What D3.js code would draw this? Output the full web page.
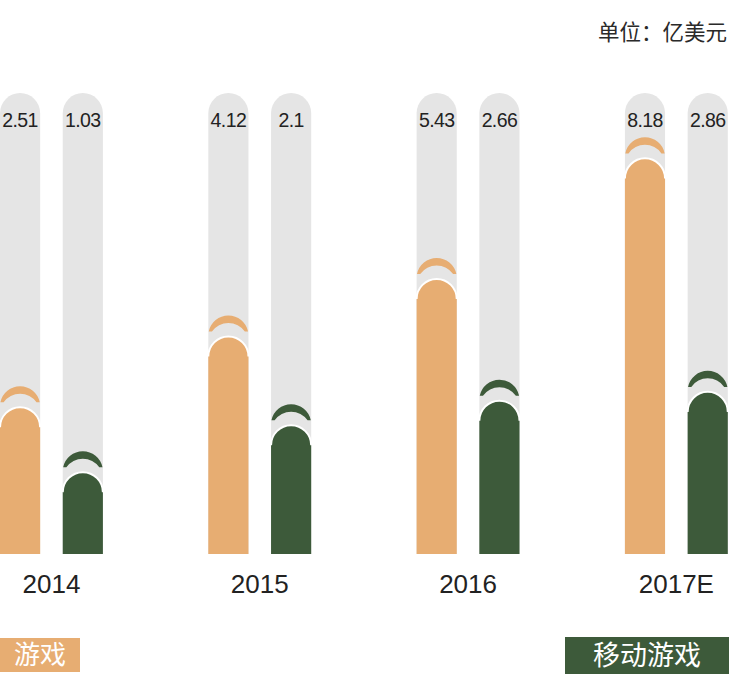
<!DOCTYPE html>
<html><head><meta charset="utf-8">
<script src="https://cdn.jsdelivr.net/npm/d3@7"></script>
<style>
html,body{margin:0;padding:0;background:#fff;}
svg{display:block;}
</style></head>
<body>
<svg id="chart" width="729" height="676"></svg>
<script>
const years = ["2014", "2015", "2016", "2017E"];
const seriesNames = ["游戏", "移动游戏"];
const gameValues = [2.51, 4.12, 5.43, 8.18];
const mobileValues = [1.03, 2.1, 2.66, 2.86];
const valueLabels = [["2.51","1.03"],["4.12","2.1"],["5.43","2.66"],["8.18","2.86"]];
const unitLabel = "单位：亿美元";

const colors = {"游戏": "#E7AD72", "移动游戏": "#3D5A3A"};
const pillColor = "#E5E5E5";
const W = 729, H = 676;
const baseY = 554, pillTop = 93;

const svg = d3.select("#chart");
const cjk = "'Noto Sans CJK SC', 'Noto Sans', sans-serif";
const latin = "'Liberation Sans', Arial, sans-serif";

const x0 = d3.scaleBand().domain(years).range([0, 727.8]).paddingInner(0.506).paddingOuter(0);
const x1 = d3.scaleBand().domain(seriesNames).range([0, x0.bandwidth()]).paddingInner(0.36).paddingOuter(0);
const y = d3.scaleLinear().domain([0, 8.18]).range([baseY - 36.6, baseY - 36.6 - 43.9 * 8.18]);

const data = [];
years.forEach((yr, i) => {
  data.push({year: yr, series: "游戏", value: gameValues[i], label: valueLabels[i][0]});
  data.push({year: yr, series: "移动游戏", value: mobileValues[i], label: valueLabels[i][1]});
});

const bw = x1.bandwidth();
const r = bw / 2;

function roundTop(x, top, bottom) {
  return `M${x},${bottom}L${x},${top + r}A${r},${r} 0 0 1 ${x + 2*r},${top + r}L${x + 2*r},${bottom}Z`;
}
function crescent(cx, capTop) {
  const c1 = capTop + r, cut = c1 - 4, d = 7.5;
  const ox = Math.sqrt(r*r - 16);
  const iy = cut - (c1 + d);
  const ix = Math.sqrt(r*r - iy*iy);
  return `M${cx-ox},${cut}A${r},${r} 0 0 1 ${cx+ox},${cut}L${cx+ix},${cut}A${r},${r} 0 0 0 ${cx-ix},${cut}Z`;
}

const g = svg.append("g");
const bars = g.selectAll("g.bar").data(data).join("g").attr("class", "bar")
  .attr("transform", d => `translate(${x0(d.year) + x1(d.series)},0)`);

bars.append("path").attr("d", roundTop(0, pillTop, baseY)).attr("fill", pillColor);

bars.append("path")
  .attr("d", d => crescent(r, y(d.value) - 21))
  .attr("fill", d => colors[d.series]);

bars.append("path")
  .attr("d", d => roundTop(0, y(d.value), baseY))
  .attr("fill", d => colors[d.series]);

bars.append("path")
  .attr("d", d => { const t = y(d.value) - 1; return `M${0},${t + r + 1}A${r},${r} 0 0 1 ${2*r},${t + r + 1}`; })
  .attr("fill", "none").attr("stroke", "#fff").attr("stroke-width", 2);

bars.append("text")
  .attr("x", r).attr("y", 127)
  .attr("text-anchor", "middle")
  .attr("font-family", latin).attr("font-size", 19.5)
  .attr("letter-spacing", -0.6)
  .attr("fill", "#222")
  .text(d => d.label);

// year labels
svg.append("g").selectAll("text").data(years).join("text")
  .attr("x", d => x0(d) + x0.bandwidth()/2)
  .attr("y", 593)
  .attr("text-anchor", "middle")
  .attr("font-family", latin).attr("font-size", 26)
  .attr("fill", "#222")
  .text(d => d);

// unit
svg.append("text").attr("x", 727).attr("y", 40).attr("text-anchor", "end")
  .attr("font-family", cjk).attr("font-size", 21.5).attr("fill", "#2a2a2a").text(unitLabel);

// legend
const legend = [
  {name: seriesNames[0], x: 0, y: 638, w: 80, h: 34, fs: 26},
  {name: seriesNames[1], x: 565, y: 637, w: 164, h: 37, fs: 27}
];
const lg = svg.append("g").selectAll("g").data(legend).join("g");
lg.append("rect").attr("x", d => d.x).attr("y", d => d.y).attr("width", d => d.w).attr("height", d => d.h)
  .attr("fill", d => colors[d.name]);
lg.append("text").attr("x", d => d.x + d.w/2).attr("y", d => d.y + d.h/2)
  .attr("dy", "0.36em").attr("text-anchor", "middle")
  .attr("font-family", cjk).attr("font-size", d => d.fs).attr("fill", "#fff")
  .text(d => d.name);
</script>
</body></html>
